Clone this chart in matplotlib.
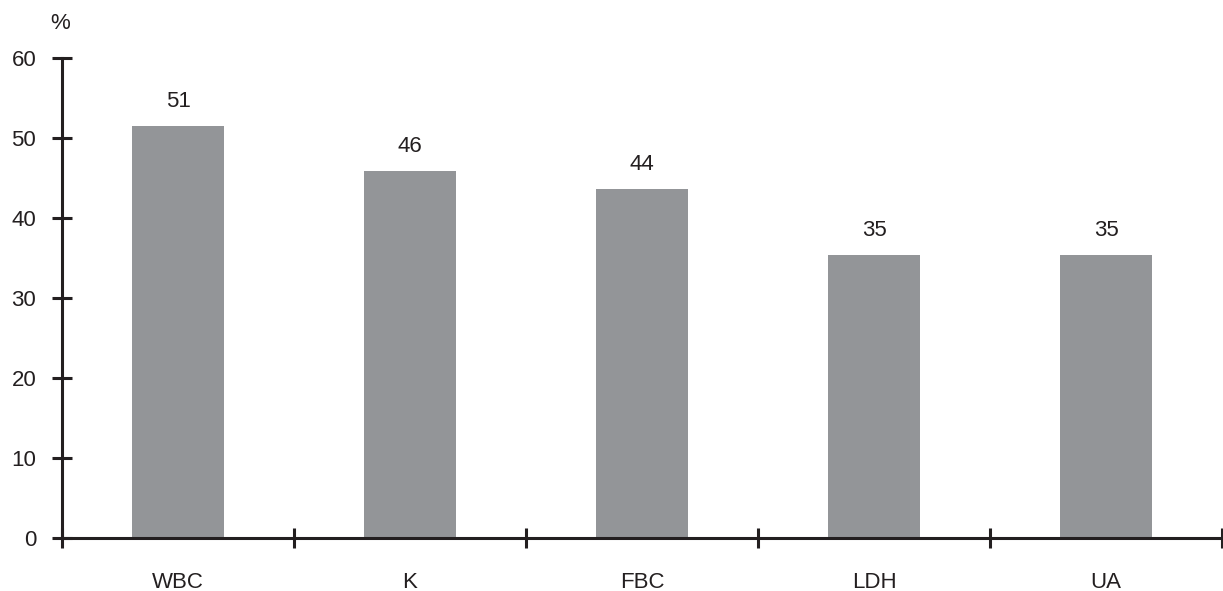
import matplotlib.pyplot as plt
import numpy as np

# Data
categories = ['WBC', 'K', 'FBC', 'LDH', 'UA']
values = [51.5, 45.8, 43.6, 35.3, 35.3]
labels = ['51', '46', '44', '35', '35']

plt.rcParams['font.family'] = ['Liberation Sans', 'DejaVu Sans']
plt.rcParams['font.size'] = 16

line_col = '#231f20'
bar_col = '#939598'

fig = plt.figure(figsize=(12.23, 5.91), dpi=100)
ax = fig.add_axes([0.0507, 0.0902, 0.9485, 0.8122])

pos = np.arange(len(categories)) + 0.5
bars = ax.bar(pos, values, width=0.4, color=bar_col, zorder=2)

# value labels above the bars
for b, lab in zip(bars, labels):
    ax.annotate(lab, (b.get_x() + b.get_width() / 2, b.get_height()),
                xytext=(0, 10), textcoords='offset points',
                ha='center', va='bottom', color=line_col)

ax.set_xlim(0, len(categories))
ax.set_ylim(0, 60)
ax.set_yticks(range(0, 61, 10))

# category boundaries as major ticks, names at the centres
ax.set_xticks(np.arange(len(categories) + 1))
ax.set_xticklabels([])
ax.set_xticks(pos, minor=True)
ax.set_xticklabels(categories, minor=True)

for s in ['top', 'right']:
    ax.spines[s].set_visible(False)
for s in ['left', 'bottom']:
    ax.spines[s].set_color(line_col)
    ax.spines[s].set_linewidth(2.2)

ax.tick_params(axis='y', direction='inout', length=14, width=2.2,
               color=line_col, labelcolor=line_col, pad=11.5)
ax.tick_params(axis='x', which='major', direction='inout', length=14,
               width=2.2, color=line_col)
ax.tick_params(axis='x', which='minor', length=0, pad=24.5,
               labelcolor=line_col)

ax.annotate('%', (0, 1), xycoords='axes fraction', xytext=(-1, 17),
            textcoords='offset points', ha='center', va='bottom',
            color=line_col)

fig.savefig('out.png', dpi=100)
